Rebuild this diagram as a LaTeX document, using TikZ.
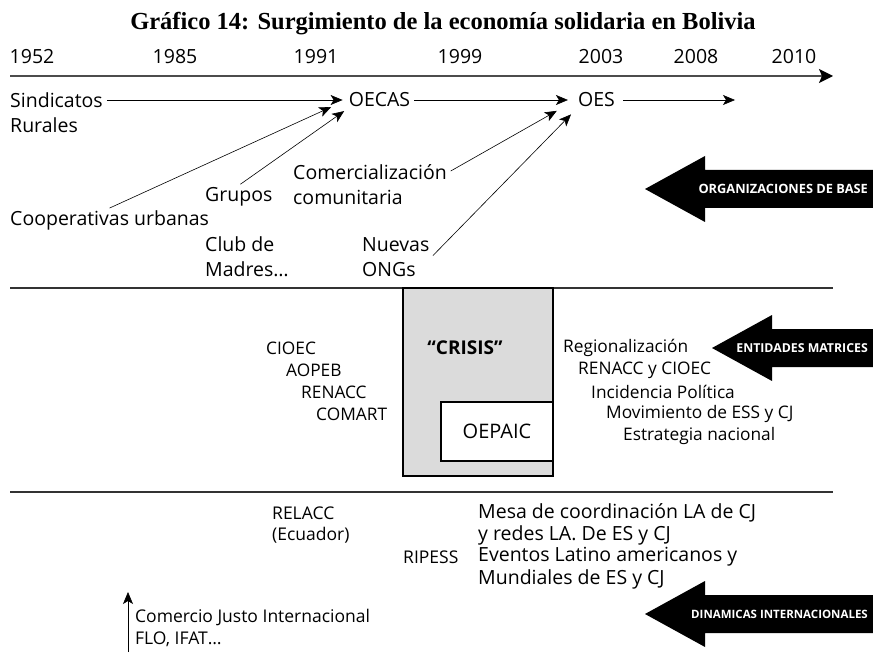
\documentclass[tikz,border=0pt]{standalone}
\usepackage{fontspec}
\setmainfont{Open Sans}
\newfontfamily\titlefont{Liberation Serif}
\usetikzlibrary{arrows.meta}

\begin{document}
\begin{tikzpicture}[x=1pt,y=-1pt,
    txt/.style={inner sep=2pt,font=\fontsize{19.5}{25}\selectfont,align=left},
    row/.style={txt,anchor=west},
    mid/.style={row,font=\fontsize{17.3}{22}\selectfont},
    low/.style={row,font=\fontsize{17.5}{22}\selectfont},
    lnk/.style={-{Stealth[length=12pt,width=10pt,inset=3pt]},line width=0.6pt},
    sepline/.style={line width=1.4pt,black!80},
    tag/.style={text=white,inner sep=0pt,anchor=east}]
  \useasboundingbox (0,0) rectangle (873,655);

  % title and time axis
  \node (title) at (443,24) {\titlefont\bfseries\fontsize{24.5}{28}\selectfont Gráfico 14: Surgimiento de la economía solidaria en Bolivia};
  \foreach \yr/\x in {1952/32,1985/175,1991/316,1999/460,2003/601,2008/696,2010/794}
    \node[txt] (y\yr) at (\x,57) {\yr};
  \coordinate (axl) at (10,76);
  \coordinate (axr) at (833,76);
  \draw[line width=1.5pt,black!70,-{Stealth[length=14pt,width=14pt,inset=3pt,color=black]}] (axl) -- (axr);

  % organizaciones de base
  \node[row] (sind) at (8,100) {Sindicatos};
  \node[row] (rur) at (8,125) {Rurales};
  \node[txt] (oecas) at (379.5,100) {OECAS};
  \node[txt] (oes) at (596.5,100) {OES};
  \coordinate (oesend) at (735,100);
  \node[row] (com) at (291,172) {Comercialización};
  \node[row] (comu) at (291,197) {comunitaria};
  \node[row] (grupos) at (203,197) {Grupos};
  \node[row] (coop) at (8,220) {Cooperativas urbanas};
  \node[row] (club) at (203,257) {Club de\\Madres…};
  \node[row] (nuevas) at (360,257) {Nuevas\\ONGs};
  \draw[lnk,shorten <=2pt,shorten >=4pt] (sind) -- (oecas);
  \draw[lnk,shorten <=2pt,shorten >=8pt] (oecas) -- (oes);
  \draw[lnk,shorten <=6pt] (oes) -- (oesend);
  \draw[lnk,shorten >=17pt] (coop.north) -- (oecas.west);
  \draw[lnk,shorten <=2pt,shorten >=3pt] (grupos.north) -- (oecas.south west);
  \draw[lnk,shorten <=2pt,shorten >=22pt] (com.east) -- (oes.west);
  \draw[lnk,shorten <=2pt,shorten >=7pt] (nuevas.east) -- (oes.south west);

  % separating lines and crisis box
  \coordinate (s1l) at (10,288);
  \coordinate (s1r) at (833,288);
  \coordinate (s2l) at (10,492);
  \coordinate (s2r) at (833,492);
  \draw[sepline] (s1l) -- (s1r);
  \draw[sepline] (s2l) -- (s2r);
  \draw[line width=1.4pt,fill=black!14] (403,288) rectangle (553,476);
  \node[font=\bfseries\fontsize{19}{22}\selectfont] (crisis) at (465,348) {“CRISIS”};
  \node[draw,line width=1.4pt,fill=white,minimum width=112pt,minimum height=59pt,
        font=\fontsize{20}{22}\selectfont] (oepaic) at (497,431.5) {OEPAIC};

  % entidades matrices
  \node[mid] (cioec) at (264,348) {CIOEC};
  \node[mid] (aopeb) at (284,370) {AOPEB};
  \node[mid] (renacc) at (299,392) {RENACC};
  \node[mid] (comart) at (314,414) {COMART};
  \node[mid] (regio) at (561,348) {Regionalización};
  \node[mid] (renci) at (576,370) {RENACC y CIOEC};
  \node[mid] (incid) at (589,392) {Incidencia Política};
  \node[mid] (movim) at (604,414) {Movimiento de ESS y CJ};
  \node[mid] (estra) at (621,436) {Estrategia nacional};

  % dinamicas internacionales
  \node[low] (relacc) at (270,513) {RELACC};
  \node[low] (ecuad) at (270,535) {(Ecuador)};
  \node[low] (ripess) at (401,557) {RIPESS};
  \node[row] (mesa) at (476,513) {Mesa de coordinación LA de CJ};
  \node[row] (redes) at (476,535) {y redes LA. De ES y CJ};
  \node[row] (event) at (476,557) {Eventos Latino americanos y};
  \node[row] (mundi) at (476,579) {Mundiales de ES y CJ};
  \node[low] (cji) at (133,617) {Comercio Justo Internacional};
  \node[low] (flo) at (133,639) {FLO, IFAT…};
  \coordinate (cjbot) at (128,652);
  \coordinate (cjtop) at (128,592);
  \draw[lnk] (cjbot) -- (cjtop);

  % big black arrows
  \foreach \tx/\ty/\fs/\lab [count=\i] in {645/189/12.8/ORGANIZACIONES DE BASE,
      712/348/12.3/ENTIDADES MATRICES, 645/614/11.5/DINAMICAS INTERNACIONALES} {
    \fill (\tx,\ty) -- (\tx+60,\ty-33) -- (\tx+60,\ty-19) -- (873,\ty-19)
      -- (873,\ty+19) -- (\tx+60,\ty+19) -- (\tx+60,\ty+33) -- cycle;
    \node[tag,font=\bfseries\fontsize{\fs}{13}\selectfont] (tag\i) at (868,\ty) {\lab};
  }
\end{tikzpicture}
\end{document}
